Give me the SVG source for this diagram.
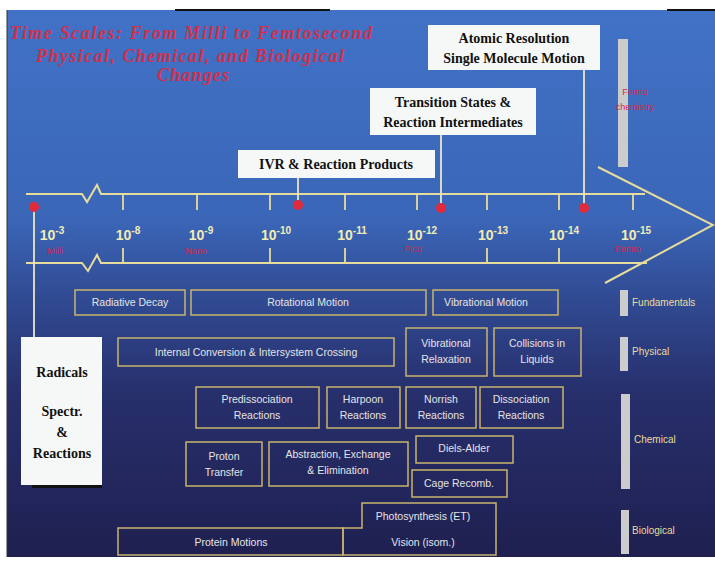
<svg xmlns="http://www.w3.org/2000/svg" width="715" height="563" viewBox="0 0 715 563">
<defs>
<linearGradient id="bg" x1="0" y1="0" x2="0" y2="1">
<stop offset="0" stop-color="#4172c6"/>
<stop offset="0.38" stop-color="#3b66b8"/>
<stop offset="0.52" stop-color="#314c94"/>
<stop offset="0.7" stop-color="#272f6c"/>
<stop offset="1" stop-color="#1f2050"/>
</linearGradient>
<style>
.title{font-family:"Liberation Serif",serif;font-weight:bold;font-style:italic;font-size:18px;fill:#d2304a}
.lbl{font-family:"Liberation Serif",serif;font-weight:bold;font-size:14px;fill:#111;text-anchor:middle}
.wbox{fill:#f6f8f8;stroke:none}
.box{fill:none;stroke:#c8b46c;stroke-width:1.5}
.bt{font-family:"Liberation Sans",Arial,sans-serif;font-size:10.5px;fill:#e4e4e4;text-anchor:middle}
.tick{font-family:"Liberation Sans",Arial,sans-serif;font-weight:bold;font-size:14px;fill:#f2ecb4;text-anchor:middle}
.sup{font-size:10px}
.red{font-family:"Liberation Sans",Arial,sans-serif;font-size:9px;fill:#d8284a;text-anchor:middle}
.ax{fill:none;stroke:#e6dc9c;stroke-width:2}
.tk{stroke:#e6dc9c;stroke-width:1.8}
.ln{stroke:#eae6c8;stroke-width:1.8}
.dot{fill:#e02a3a}
.bar{fill:#cccccc}
.cat{font-family:"Liberation Sans",Arial,sans-serif;font-size:10px;fill:#e8dc9c}
</style>
</defs>
<rect x="0" y="0" width="715" height="563" fill="#ffffff"/>
<rect x="7" y="10" width="708" height="547" fill="url(#bg)"/>
<line x1="175" y1="10" x2="330" y2="10" stroke="#111" stroke-width="2"/>
<line x1="667" y1="10" x2="715" y2="10" stroke="#111" stroke-width="2"/>
<line x1="7" y1="10" x2="7" y2="557" stroke="#333" stroke-width="1"/>

<g id="title">
<text class="title" x="10" y="39" textLength="362" lengthAdjust="spacing">Time Scales: From Milli to Femtosecond</text>
<text class="title" x="190" y="62" text-anchor="middle" textLength="308" lengthAdjust="spacing">Physical, Chemical, and Biological</text>
<text class="title" x="193" y="81" text-anchor="middle" textLength="72" lengthAdjust="spacing">Changes</text>
</g>

<g id="connectors">
<path class="ax" d="M26,194 H82 L87,202 L97,185 L101,194 H645"/>
<path class="ax" d="M26,263 H82 L88,271 L97,255 L101,263 H647"/>
<path class="ax" d="M598,167 L713,225 L605,283"/>
<line class="tk" x1="123" y1="194" x2="123" y2="210"/>
<line class="tk" x1="197" y1="194" x2="197" y2="210"/>
<line class="tk" x1="270" y1="194" x2="270" y2="210"/>
<line class="tk" x1="345" y1="194" x2="345" y2="210"/>
<line class="tk" x1="417" y1="194" x2="417" y2="210"/>
<line class="tk" x1="487" y1="194" x2="487" y2="210"/>
<line class="tk" x1="559" y1="194" x2="559" y2="210"/>
<line class="tk" x1="633" y1="194" x2="633" y2="210"/>
<line class="tk" x1="123" y1="248" x2="123" y2="263"/>
<line class="tk" x1="270" y1="248" x2="270" y2="263"/>
<line class="tk" x1="345" y1="248" x2="345" y2="263"/>
<line class="tk" x1="487" y1="248" x2="487" y2="263"/>
<line class="tk" x1="559" y1="248" x2="559" y2="263"/>
<line class="ln" x1="34" y1="207" x2="34" y2="337"/>
<line class="ln" x1="298" y1="178" x2="298" y2="205"/>
<line class="ln" x1="441" y1="135" x2="441" y2="208"/>
<line class="ln" x1="584" y1="70" x2="584" y2="208"/>
<circle class="dot" cx="34" cy="207" r="5"/>
<circle class="dot" cx="298" cy="205" r="5"/>
<circle class="dot" cx="441" cy="208" r="5"/>
<circle class="dot" cx="584" cy="208" r="5"/>
</g>

<g id="axis-labels">
<text class="tick" x="52" y="240">10<tspan class="sup" dy="-6">-3</tspan></text>
<text class="tick" x="128" y="240">10<tspan class="sup" dy="-6">-8</tspan></text>
<text class="tick" x="201" y="240">10<tspan class="sup" dy="-6">-9</tspan></text>
<text class="tick" x="276" y="240">10<tspan class="sup" dy="-6">-10</tspan></text>
<text class="tick" x="352" y="240">10<tspan class="sup" dy="-6">-11</tspan></text>
<text class="tick" x="422" y="240">10<tspan class="sup" dy="-6">-12</tspan></text>
<text class="tick" x="493" y="240">10<tspan class="sup" dy="-6">-13</tspan></text>
<text class="tick" x="564" y="240">10<tspan class="sup" dy="-6">-14</tspan></text>
<text class="tick" x="636" y="240">10<tspan class="sup" dy="-6">-15</tspan></text>
<text class="red" x="55" y="254">Milli</text>
<text class="red" x="196" y="254">Nano</text>
<text class="red" x="413" y="252">Pico</text>
<text class="red" x="628" y="252">Femto</text>
</g>

<g id="atomic-resolution">
<rect class="wbox" x="428" y="25" width="172" height="45"/>
<text class="lbl" x="514" y="43">Atomic Resolution</text>
<text class="lbl" x="514" y="63">Single Molecule Motion</text>
</g>
<g id="transition-states">
<rect class="wbox" x="370" y="88" width="166" height="47"/>
<text class="lbl" x="453" y="107">Transition States &amp;</text>
<text class="lbl" x="453" y="127">Reaction Intermediates</text>
</g>
<g id="ivr">
<rect class="wbox" x="238" y="150" width="197" height="28"/>
<text class="lbl" x="336" y="169">IVR &amp; Reaction Products</text>
</g>

<g id="femtochemistry">
<rect class="bar" x="618" y="39" width="10" height="128"/>
<text class="red" x="635" y="95" text-anchor="start">Femto</text>
<text class="red" x="635" y="110" text-anchor="start">chemistry</text>
</g>

<g id="radicals">
<rect x="32" y="484" width="70" height="4" fill="#111"/>
<rect class="wbox" x="21" y="337" width="81" height="148"/>
<text class="lbl" x="62" y="377" font-size="15">Radicals</text>
<text class="lbl" x="62" y="416" font-size="15">Spectr.</text>
<text class="lbl" x="62" y="437" font-size="15">&amp;</text>
<text class="lbl" x="62" y="458" font-size="15">Reactions</text>
</g>

<g id="radiative-decay"><rect class="box" x="75" y="290" width="110" height="25"/><text class="bt" x="130" y="306">Radiative Decay</text></g>
<g id="rotational-motion"><rect class="box" x="191" y="290" width="235" height="25"/><text class="bt" x="308" y="306">Rotational Motion</text></g>
<g id="vibrational-motion"><rect class="box" x="433" y="290" width="125" height="25"/><text class="bt" x="486" y="306">Vibrational Motion</text></g>
<g id="fundamentals"><rect class="bar" x="620" y="290" width="8" height="26"/><text class="cat" x="632" y="306">Fundamentals</text></g>

<g id="internal-conversion"><rect class="box" x="118" y="338" width="276" height="28"/><text class="bt" x="256" y="356">Internal Conversion &amp; Intersystem Crossing</text></g>
<g id="vibrational-relaxation"><rect class="box" x="406" y="328" width="81" height="48"/><text class="bt" x="446" y="347">Vibrational</text><text class="bt" x="446" y="363">Relaxation</text></g>
<g id="collisions"><rect class="box" x="494" y="328" width="87" height="48"/><text class="bt" x="537" y="347">Collisions  in</text><text class="bt" x="537" y="363">Liquids</text></g>
<g id="physical"><rect class="bar" x="620" y="337" width="8" height="34"/><text class="cat" x="632" y="355">Physical</text></g>

<g id="predissociation"><rect class="box" x="196" y="387" width="123" height="41"/><text class="bt" x="257" y="403">Predissociation</text><text class="bt" x="257" y="419">Reactions</text></g>
<g id="harpoon"><rect class="box" x="327" y="387" width="73" height="41"/><text class="bt" x="363" y="403">Harpoon</text><text class="bt" x="363" y="419">Reactions</text></g>
<g id="norrish"><rect class="box" x="406" y="387" width="70" height="41"/><text class="bt" x="441" y="403">Norrish</text><text class="bt" x="441" y="419">Reactions</text></g>
<g id="dissociation"><rect class="box" x="480" y="387" width="83" height="41"/><text class="bt" x="521" y="403">Dissociation</text><text class="bt" x="521" y="419">Reactions</text></g>
<g id="proton-transfer"><rect class="box" x="186" y="442" width="76" height="44"/><text class="bt" x="224" y="460">Proton</text><text class="bt" x="224" y="476">Transfer</text></g>
<g id="abstraction"><rect class="box" x="269" y="442" width="139" height="44"/><text class="bt" x="338" y="458">Abstraction, Exchange</text><text class="bt" x="338" y="474">&amp;  Elimination</text></g>
<g id="diels-alder"><rect class="box" x="416" y="436" width="97" height="27"/><text class="bt" x="464" y="452">Diels-Alder</text></g>
<g id="cage-recomb"><rect class="box" x="412" y="470" width="95" height="27"/><text class="bt" x="459" y="487">Cage  Recomb.</text></g>
<g id="chemical"><rect class="bar" x="621" y="394" width="9" height="95"/><text class="cat" x="634" y="443">Chemical</text></g>

<g id="protein-motions"><path class="box" d="M118,528 H343 V555 H118 Z"/><text class="bt" x="231" y="546">Protein Motions</text></g>
<g id="photosynthesis-vision"><path class="box" d="M343,528 H362 V503 H496 V555 H343 Z"/><text class="bt" x="423" y="520">Photosynthesis  (ET)</text><text class="bt" x="423" y="546">Vision  (isom.)</text></g>
<g id="biological"><rect class="bar" x="621" y="510" width="8" height="44"/><text class="cat" x="632" y="534">Biological</text></g>
</svg>
